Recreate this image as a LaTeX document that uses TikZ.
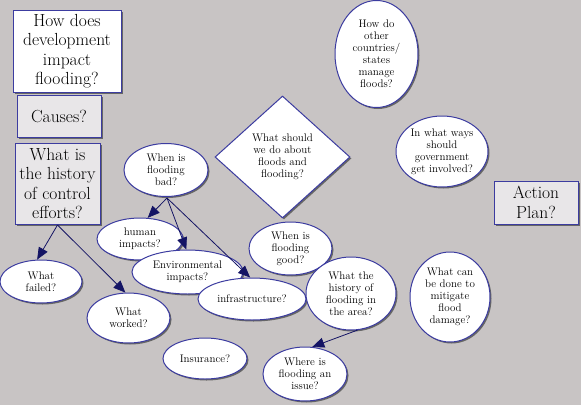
\documentclass[tikz,border=0pt]{standalone}
\usepackage{fontspec}
\usetikzlibrary{shapes.geometric,arrows.meta,shadows}
\definecolor{bg}{RGB}{200,196,196}
\definecolor{edge}{RGB}{60,60,160}
\definecolor{arr}{RGB}{20,20,100}
\definecolor{boxgray}{RGB}{232,230,232}
\begin{document}
\begin{tikzpicture}[x=1pt,y=-1pt,
 sh/.style={drop shadow={shadow xshift=1.5pt,shadow yshift=-1.5pt,fill=black!60,opacity=1}},
 bigbox/.style={rectangle,draw=edge,line width=1pt,sh,font=\rmfamily\fontsize{17.5}{19.5}\selectfont,align=center,inner sep=0pt},
 oval/.style={ellipse,draw=edge,line width=1pt,fill=white,sh,font=\rmfamily\fontsize{11}{12}\selectfont,align=center,inner sep=0pt},
 link/.style={draw=arr,line width=0.8pt,-{Triangle[length=12pt,width=10pt]}}]
\fill[bg] (0,0) rectangle (581,405);
\useasboundingbox (0,0) rectangle (581,405);
% boxes
\node[bigbox,fill=white,minimum width=108pt,minimum height=82pt] (dev) at (67,51) {How does\\development\\impact\\flooding?};
\node[bigbox,fill=boxgray,minimum width=84pt,minimum height=42pt] (causes) at (59,116) {Causes?};
\node[bigbox,fill=boxgray,minimum width=85pt,minimum height=81pt] (hist) at (57.5,183.5) {What is\\the history\\of control\\efforts?};
\node[bigbox,fill=boxgray,minimum width=84pt,minimum height=43pt] (action) at (536,202.5) {Action\\Plan?};
% diamond
\node[diamond,draw=edge,line width=1pt,fill=white,sh,minimum width=135pt,minimum height=122pt,inner sep=0pt,align=center,font=\rmfamily\fontsize{11}{12}\selectfont] (what) at (282.5,157) {What should\\we do about\\floods and\\flooding?};
% ellipses
\node[oval,minimum width=84pt,minimum height=53pt] (bad) at (166,170) {When is\\flooding\\bad?};
\node[oval,minimum width=86pt,minimum height=42pt] (human) at (140,239) {human\\impacts?};
\node[oval,minimum width=111pt,minimum height=44pt] (env) at (187.5,272) {Environmental\\impacts?};
\node[oval,minimum width=108pt,minimum height=42pt] (infra) at (252,299) {infrastructure?};
\node[oval,minimum width=83pt,minimum height=53pt] (good) at (290.5,248.5) {When is\\flooding\\good?};
\node[oval,minimum width=90pt,minimum height=73pt] (area) at (351,293.5) {What the\\history of\\flooding in\\the area?};
\node[oval,minimum width=80pt,minimum height=90pt] (mitig) at (450,297) {What can\\be done to\\mitigate\\flood\\damage?};
\node[oval,minimum width=84pt,minimum height=54pt] (where) at (305,374) {Where is\\flooding an\\issue?};
\node[oval,minimum width=84pt,minimum height=41pt] (ins) at (205,358.5) {Insurance?};
\node[oval,minimum width=82pt,minimum height=43pt] (failed) at (41,281.5) {What\\failed?};
\node[oval,minimum width=83pt,minimum height=50pt] (worked) at (128.5,318) {What\\worked?};
\node[oval,minimum width=83pt,minimum height=107pt] (other) at (376.5,54) {How do\\other\\countries/\\states\\manage\\floods?};
\node[oval,minimum width=92pt,minimum height=71pt] (gov) at (442,151.5) {In what ways\\should\\government\\get involved?};
% connectors
\coordinate (hs) at (57.5,225);
\coordinate (bs) at (167,198);
\draw[link] (hs) -- (failed.100);
\draw[link] (hs) -- (worked.97);
\draw[link] (bs) -- (human.70);
\draw[link] (bs) -- (env.93);
\draw[link] (bs) -- (infra.95);
\draw[link] (area.-80) -- (where.75);
\end{tikzpicture}
\end{document}
